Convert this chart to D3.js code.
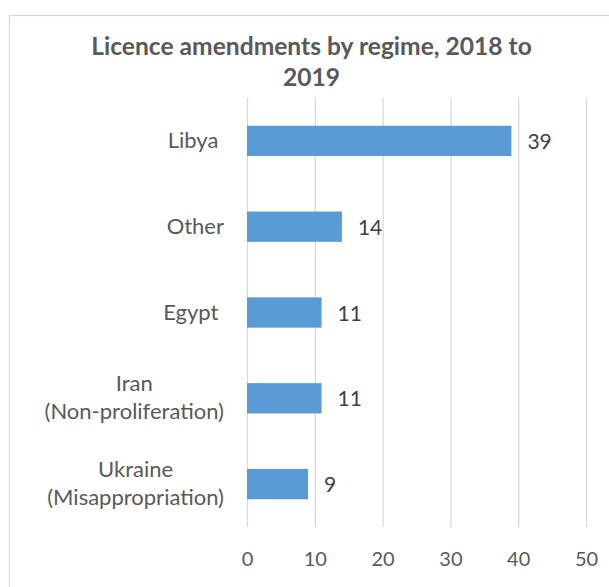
<!DOCTYPE html>
<html>
<head>
<meta charset="utf-8">
<script src="https://cdn.jsdelivr.net/npm/d3@7"></script>
<style>
  html, body { margin: 0; padding: 0; background: #ffffff; }
  svg { display: block; font-family: Lato, "Open Sans", sans-serif; }
  text { white-space: pre; }
</style>
</head>
<body>
<div id="chart"></div>
<script>
// Licence amendments by regime, 2018 to 2019
const titleLines = ["Licence amendments by regime, 2018 to", "2019"];
const categories = [
  ["Libya "],
  ["Other"],
  ["Egypt "],
  ["Iran", "(Non-proliferation)"],
  ["Ukraine", "(Misappropriation)"]
];
const values = [39, 14, 11, 11, 9];
const tickValues = [0, 10, 20, 30, 40, 50];

const W = 609, H = 587;
const plot = { left: 247, right: 586, top: 98, bottom: 527 };
const textColor = "#595959";
const valueColor = "#404040";
const gridColor = "#d9d9d9";
const barColor = "#5b9bd5";

const svg = d3.select("#chart").append("svg")
  .attr("width", W).attr("height", H);

// chart area frame
svg.append("rect")
  .attr("x", 9.5).attr("y", 15.5)
  .attr("width", W + 20).attr("height", H + 20)
  .attr("fill", "#ffffff")
  .attr("stroke", gridColor).attr("stroke-width", 1.3);

// title
const title = svg.append("text")
  .attr("text-anchor", "middle")
  .attr("fill", textColor)
  .attr("font-weight", 700)
  .attr("font-size", 24.6);
title.selectAll("tspan").data(titleLines).join("tspan")
  .attr("x", 311.5)
  .attr("y", (d, i) => 55 + i * 31)
  .text(d => d);

const x = d3.scaleLinear().domain([0, 50]).range([plot.left, plot.right]);
const keys = categories.map(c => c.join("|"));
const pad = 0.647;
const y = d3.scaleBand().domain(keys)
  .range([plot.top, plot.bottom])
  .paddingInner(pad).paddingOuter(pad / 2);

// value axis with gridlines
const axis = svg.append("g")
  .attr("transform", `translate(0,${plot.bottom})`)
  .call(d3.axisBottom(x).tickValues(tickValues)
    .tickSize(-(plot.bottom - plot.top)).tickSizeOuter(0));
axis.select(".domain").remove();
axis.selectAll(".tick line")
  .attr("stroke", gridColor).attr("stroke-width", 1.3);
axis.selectAll(".tick text")
  .attr("y", 39).attr("dy", 0)
  .attr("fill", textColor)
  .attr("font-size", 20)
  .attr("font-family", "Lato, sans-serif");

// bars
const data = keys.map((k, i) => ({ key: k, lines: categories[i], value: values[i] }));
svg.append("g").selectAll("rect").data(data).join("rect")
  .attr("x", x(0))
  .attr("y", d => y(d.key))
  .attr("width", d => x(d.value) - x(0))
  .attr("height", y.bandwidth())
  .attr("fill", barColor);

// value labels
svg.append("g").selectAll("text").data(data).join("text")
  .attr("x", d => x(d.value) + 16)
  .attr("y", d => y(d.key) + y.bandwidth() / 2 + 8)
  .attr("fill", valueColor)
  .attr("font-size", 21)
  .text(d => d.value);

// category labels: right-aligned block, lines centred within it
const labelRight = 224;
const labels = svg.append("g")
  .attr("fill", textColor)
  .attr("font-size", 22);
data.forEach(d => {
  const g = labels.append("g");
  const cy = y(d.key) + y.bandwidth() / 2;
  const n = d.lines.length;
  const ts = d.lines.map((line, i) => g.append("text")
    .attr("text-anchor", "middle")
    .attr("y", cy + 7 - (n - 1) * 14 + i * 28)
    .text(line));
  const wMax = d3.max(ts, t => t.node().getComputedTextLength());
  ts.forEach(t => t.attr("x", labelRight - wMax / 2));
});
</script>
</body>
</html>
